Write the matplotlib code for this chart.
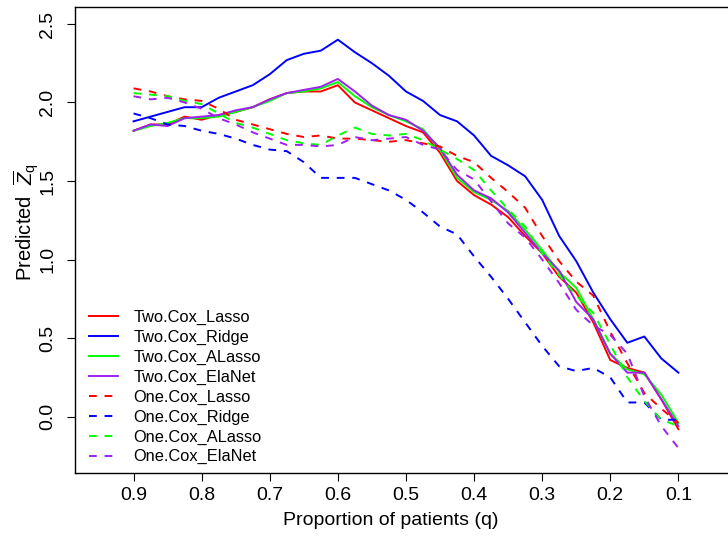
import numpy as np
import matplotlib.pyplot as plt

plt.rcParams['font.family'] = ['Liberation Sans', 'DejaVu Sans']
plt.rcParams['mathtext.fontset'] = 'custom'
plt.rcParams['mathtext.rm'] = 'Liberation Sans'
plt.rcParams['mathtext.it'] = 'Liberation Sans:italic'

# proportion of patients (x axis runs from 0.9 down to 0.1)
q = [0.9, 0.875, 0.85, 0.825, 0.8, 0.775, 0.75, 0.725, 0.7, 0.675, 0.65,
     0.625, 0.6, 0.575, 0.55, 0.525, 0.5, 0.475, 0.45, 0.425, 0.4, 0.375,
     0.35, 0.325, 0.3, 0.275, 0.25, 0.225, 0.2, 0.175, 0.15, 0.125, 0.1]

# -------- two-stage Cox models (solid) --------
two_lasso = [1.82, 1.86, 1.86, 1.91, 1.89, 1.92, 1.94, 1.97, 2.02, 2.06, 2.07,
             2.07, 2.11, 2.00, 1.95, 1.90, 1.85, 1.81, 1.68, 1.50, 1.41, 1.35,
             1.27, 1.15, 1.04, 0.89, 0.79, 0.60, 0.36, 0.31, 0.28, 0.11, -0.08]
two_ridge = [1.88, 1.91, 1.94, 1.97, 1.97, 2.03, 2.07, 2.11, 2.18, 2.27, 2.31,
             2.33, 2.40, 2.32, 2.25, 2.17, 2.07, 2.01, 1.92, 1.88, 1.79, 1.66,
             1.60, 1.53, 1.38, 1.15, 0.99, 0.79, 0.62, 0.47, 0.51, 0.37, 0.28]
two_alasso = [1.82, 1.85, 1.87, 1.90, 1.90, 1.91, 1.94, 1.97, 2.01, 2.06, 2.07,
              2.09, 2.13, 2.04, 1.97, 1.92, 1.88, 1.83, 1.70, 1.52, 1.43, 1.38,
              1.31, 1.19, 1.06, 0.92, 0.82, 0.62, 0.40, 0.30, 0.27, 0.14, -0.04]
two_elanet = [1.82, 1.86, 1.85, 1.90, 1.91, 1.92, 1.95, 1.97, 2.02, 2.06, 2.08,
              2.10, 2.15, 2.07, 1.98, 1.92, 1.89, 1.82, 1.71, 1.54, 1.44, 1.39,
              1.30, 1.17, 1.04, 0.93, 0.73, 0.62, 0.40, 0.28, 0.28, 0.11, -0.06]

# -------- one-stage Cox models (dashed) --------
one_lasso = [2.09, 2.07, 2.04, 2.02, 2.01, 1.96, 1.89, 1.86, 1.83, 1.80, 1.78,
             1.79, 1.77, 1.77, 1.76, 1.75, 1.76, 1.74, 1.72, 1.66, 1.62, 1.52,
             1.43, 1.33, 1.15, 0.99, 0.86, 0.77, 0.54, 0.34, 0.15, 0.05, -0.04]
one_ridge = [1.93, 1.90, 1.86, 1.85, 1.82, 1.80, 1.77, 1.73, 1.70, 1.69, 1.62,
             1.52, 1.52, 1.52, 1.48, 1.44, 1.38, 1.30, 1.21, 1.16, 1.02, 0.89,
             0.75, 0.60, 0.45, 0.32, 0.29, 0.31, 0.25, 0.09, 0.09, -0.02, -0.02]
one_alasso = [2.06, 2.05, 2.04, 2.01, 1.99, 1.93, 1.87, 1.84, 1.80, 1.76, 1.74,
              1.73, 1.79, 1.84, 1.80, 1.79, 1.80, 1.76, 1.70, 1.64, 1.57, 1.44,
              1.32, 1.21, 1.04, 0.90, 0.77, 0.66, 0.46, 0.25, 0.10, -0.02, -0.06]
one_elanet = [2.04, 2.02, 2.03, 2.00, 1.96, 1.90, 1.86, 1.81, 1.77, 1.73, 1.73,
              1.72, 1.73, 1.78, 1.76, 1.77, 1.78, 1.73, 1.70, 1.57, 1.51, 1.37,
              1.23, 1.14, 1.00, 0.85, 0.68, 0.58, 0.52, 0.40, 0.13, -0.06, -0.20]

series = [
    ('Two.Cox_Lasso', two_lasso, '#FF0000', '-'),
    ('Two.Cox_Ridge', two_ridge, '#0000FF', '-'),
    ('Two.Cox_ALasso', two_alasso, '#00FF00', '-'),
    ('Two.Cox_ElaNet', two_elanet, '#A020F0', '-'),
    ('One.Cox_Lasso', one_lasso, '#FF0000', '--'),
    ('One.Cox_Ridge', one_ridge, '#0000FF', '--'),
    ('One.Cox_ALasso', one_alasso, '#00FF00', '--'),
    ('One.Cox_ElaNet', one_elanet, '#A020F0', '--'),
]

fig = plt.figure(figsize=(7.28, 5.41), dpi=100)
ax = fig.add_axes([0.1030, 0.1257, 0.9093, 0.8608])

for label, vals, color, ls in series:
    line, = ax.plot(q, vals, color=color, linestyle=ls, linewidth=1.4, label=label)
    if ls == '--':
        line.set_dashes((4, 4))

ax.set_xlim(0.986, 0.014)
ax.set_ylim(-0.359, 2.606)
ax.set_xticks([0.9, 0.8, 0.7, 0.6, 0.5, 0.4, 0.3, 0.2, 0.1])
ax.set_yticks([0.0, 0.5, 1.0, 1.5, 2.0, 2.5])
ax.set_xticklabels(['0.9', '0.8', '0.7', '0.6', '0.5', '0.4', '0.3', '0.2', '0.1'])
ax.set_yticklabels(['0.0', '0.5', '1.0', '1.5', '2.0', '2.5'], rotation=90, va='center')
ax.tick_params(axis='x', direction='out', length=6, width=0.8, labelsize=14, pad=4)
ax.tick_params(axis='y', direction='out', length=6, width=0.8, labelsize=14, pad=7.5)
for s in ax.spines.values():
    s.set_linewidth(1.0)

ax.set_xlabel('Proportion of patients (q)', fontsize=14)
ax.xaxis.set_label_coords(0.477, -0.083)
ax.set_ylabel(r'Predicted  $\overline{Z}_{\mathrm{q}}$', fontsize=14.5)
ax.yaxis.set_label_coords(-0.052, 0.539)

ax.legend(loc='upper left', bbox_to_anchor=(0.021, 0.35), frameon=False,
          fontsize=11.8, handlelength=1.8, handletextpad=0.9,
          labelspacing=0.29, borderpad=0, borderaxespad=0)

fig.savefig('out.png', dpi=100)
